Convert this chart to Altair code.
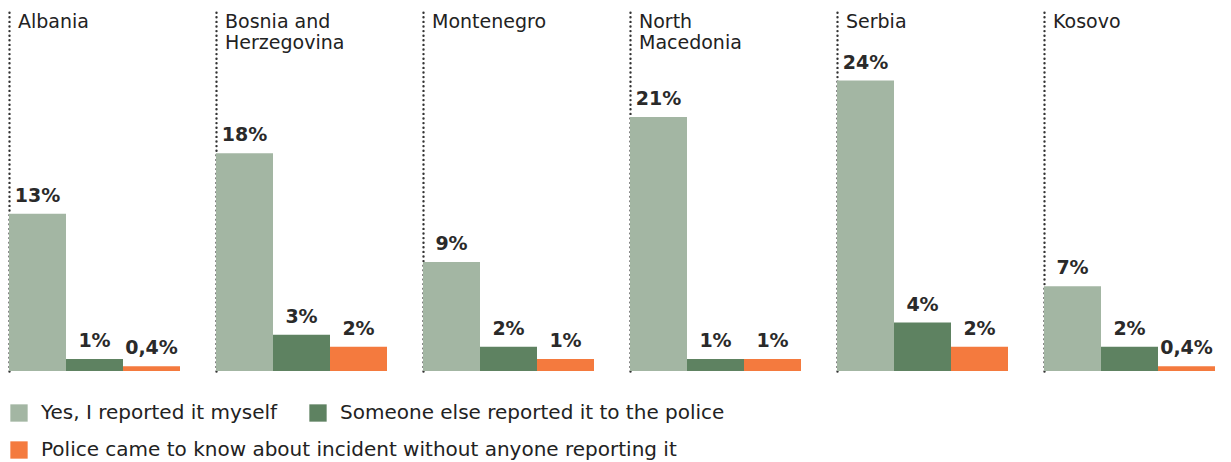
import altair as alt
import pandas as pd

countries = ["Albania", "Bosnia and Herzegovina", "Montenegro", "North Macedonia", "Serbia", "Kosovo"]
country_labels = ["Albania", "Bosnia and\nHerzegovina", "Montenegro", "North\nMacedonia", "Serbia", "Kosovo"]
series = [
    "Yes, I reported it myself",
    "Someone else reported it to the police",
    "Police came to know about incident without anyone reporting it",
]
self_reported = [13, 18, 9, 21, 24, 7]
someone_else = [1, 3, 2, 1, 4, 2]
police_knew = [0.4, 2, 1, 1, 2, 0.4]
self_labels = ["13%", "18%", "9%", "21%", "24%", "7%"]
else_labels = ["1%", "3%", "2%", "1%", "4%", "2%"]
police_labels = ["0,4%", "2%", "1%", "1%", "2%", "0,4%"]
colors = ["#a3b6a3", "#5e8261", "#f47a3e"]

rows = []
for i, c in enumerate(countries):
    for s, vals, labs in zip(series, [self_reported, someone_else, police_knew],
                             [self_labels, else_labels, police_labels]):
        rows.append({"country": c, "clabel": country_labels[i], "series": s,
                     "value": vals[i], "label": labs[i]})
df = pd.DataFrame(rows)

FONT = "DejaVu Sans"
LFS = 20

x_enc = alt.X("series:N", sort=series, axis=None,
              scale=alt.Scale(domain=series, paddingInner=0, paddingOuter=0))
y_enc = alt.Y("value:Q", scale=alt.Scale(domain=[0, 30], nice=False),
              axis=alt.Axis(domain=True, domainDash=[0, 4.6], domainCap="round",
                            domainWidth=2.4, domainColor="#333333",
                            labels=False, ticks=False, grid=False, title=None))

legend_common = dict(title=None, orient="none", direction="horizontal",
                     symbolType="square", symbolSize=300, symbolStrokeWidth=0,
                     labelFont=FONT, labelFontSize=LFS, labelColor="#222222",
                     labelOffset=12, columnPadding=30, labelLimit=900, padding=0)

bars_a = alt.Chart().transform_filter(
    alt.datum.series != series[2]
).mark_bar().encode(
    x=x_enc,
    y=y_enc,
    color=alt.Color("series:N", sort=series[:2],
                    scale=alt.Scale(domain=series[:2], range=colors[:2]),
                    legend=alt.Legend(legendX=0, legendY=395, **legend_common)),
)

bars_b = alt.Chart().transform_filter(
    alt.datum.series == series[2]
).mark_bar().encode(
    x=x_enc,
    y=alt.Y("value:Q"),
    fill=alt.Fill("series:N",
                  scale=alt.Scale(domain=series[2:], range=colors[2:]),
                  legend=alt.Legend(legendX=0, legendY=432, **legend_common)),
)

labels = alt.Chart().mark_text(baseline="bottom", dy=-8, font=FONT, fontSize=19,
                               fontWeight="bold", color="#2a2a2a").encode(
    x=x_enc,
    y=alt.Y("value:Q"),
    text="label:N",
)

titles = alt.Chart().transform_filter(
    alt.datum.series == series[0]
).mark_text(align="left", baseline="top", font=FONT, fontSize=19, color="#222222",
            lineBreak="\n", lineHeight=21).encode(
    x=alt.value(9),
    y=alt.value(5),
    text="clabel:N",
)

chart = alt.layer(bars_a, bars_b, labels, titles, data=df).properties(
    width=171, height=363
).facet(
    column=alt.Column("country:N", sort=countries, title=None,
                      header=alt.Header(labels=False, title=None)),
    spacing=36,
).resolve_axis(y="independent").properties(
    padding={"left": 1, "top": 0, "right": 0, "bottom": 0}
).configure_view(stroke=None)

chart.save("out.html", embed_options={"renderer": "svg", "actions": False})
